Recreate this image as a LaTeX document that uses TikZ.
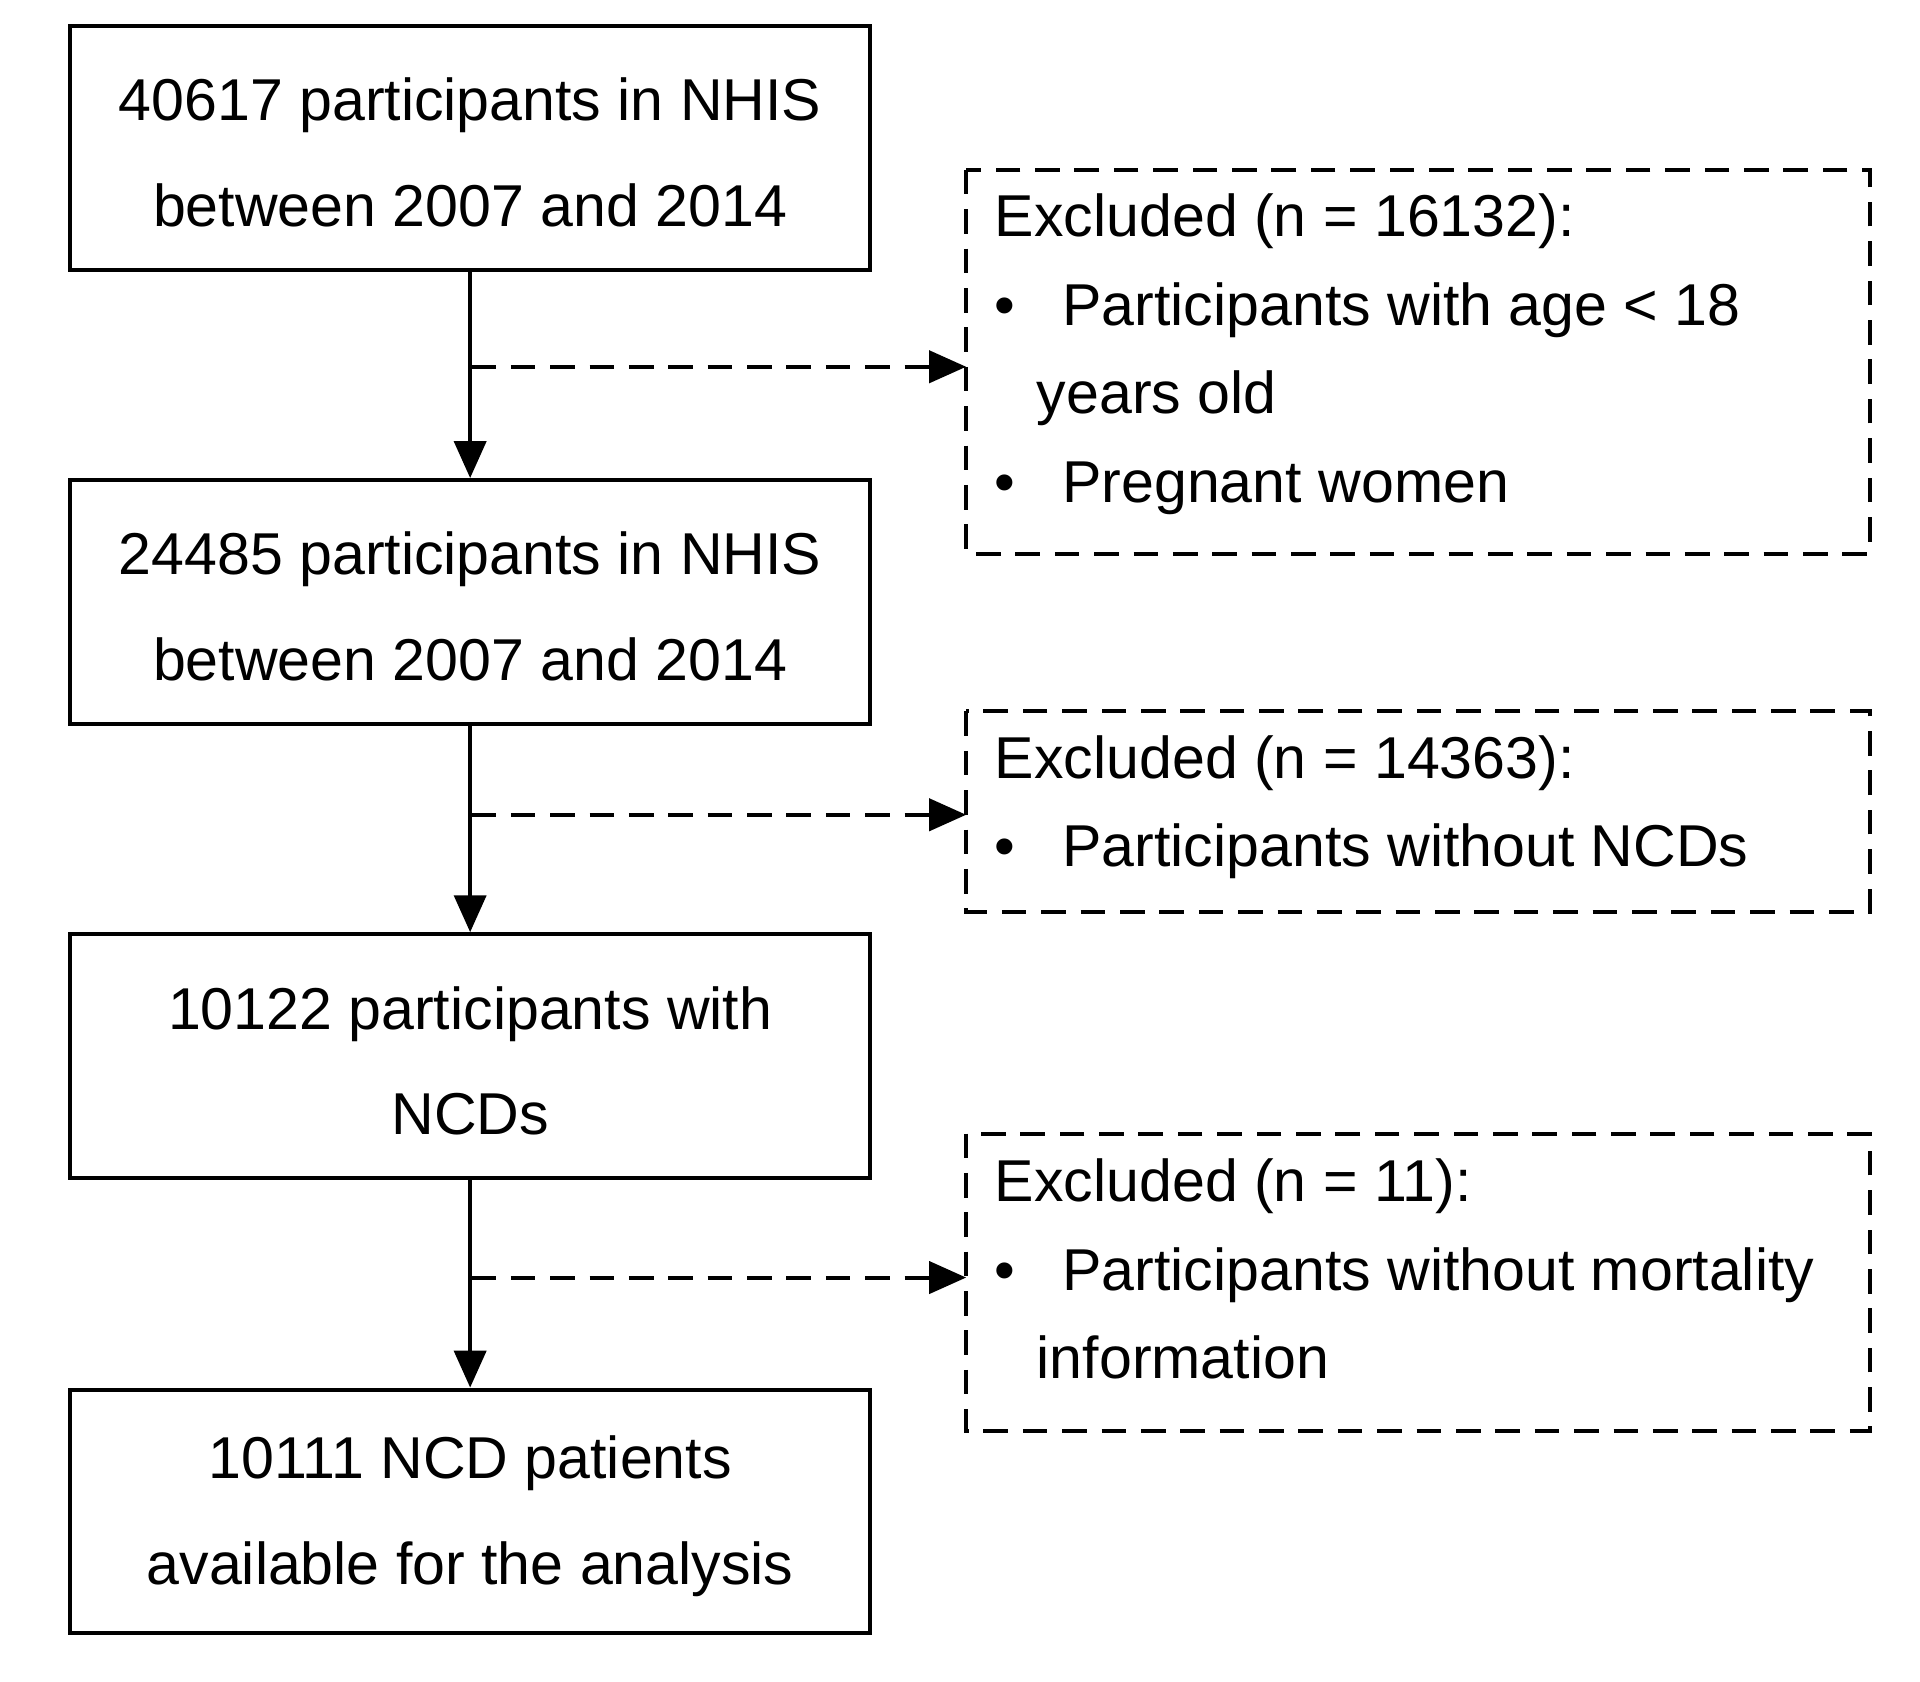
\documentclass[tikz,border=0pt]{standalone}
\usepackage{fontspec}
\setmainfont{Liberation Sans}
\usetikzlibrary{arrows.meta}
\begin{document}
\begin{tikzpicture}[x=0.5pt,y=-0.5pt,
  mainbox/.style={draw,line width=1.6pt,minimum width=325pt,minimum height=99pt,inner sep=0pt},
  exbox/.style={draw,line width=1.6pt,dash pattern=on 10pt off 6pt},
  maintext/.style={align=center,font=\fontsize{24}{43}\selectfont},
  extext/.style={anchor=mid west,inner sep=0pt,font=\fontsize{24}{29}\selectfont},
  flow/.style={line width=1.6pt,-{Triangle[length=15pt,width=13pt]}},
  dflow/.style={line width=1.6pt,dash pattern=on 10pt off 6pt,-{Triangle[length=15pt,width=13pt]}}]
\useasboundingbox (0,0) rectangle (1560,1366);
\node[mainbox] (b1) at (382,120) {};
\node[mainbox] (b2) at (382,489) {};
\node[mainbox] (b3) at (382,858) {};
\node[mainbox] (b4) at (382,1228) {};
\node[maintext] (t1) at (382,124) {40617 participants in NHIS\\between 2007 and 2014};
\node[maintext] (t2) at (382,493) {24485 participants in NHIS\\between 2007 and 2014};
\node[maintext] (t3) at (382,862) {10122 participants with\\NCDs};
\node[maintext] (t4) at (382,1232) {10111 NCD patients\\available for the analysis};
\draw[flow] (b1.south) -- (b2.north);
\draw[flow] (b2.south) -- (b3.north);
\draw[flow] (b3.south) -- (b4.north);
\draw[exbox] (785,138) rectangle (1519,450);
\draw[exbox] (785,578) rectangle (1519,741);
\draw[exbox] (785,921) rectangle (1519,1163);
\coordinate (e1) at (785,298);
\coordinate (e2) at (785,662);
\coordinate (e3) at (785,1038);
\coordinate (s1) at (383,298);
\coordinate (s2) at (383,662);
\coordinate (s3) at (383,1038);
\draw[dflow] (s1) -- (e1);
\draw[dflow] (s2) -- (e2);
\draw[dflow] (s3) -- (e3);
\node[extext] (x1) at (808,187) {Excluded (n = 16132):};
\node[extext] (x1b) at (808,259) {•\hspace{19pt}Participants with age < 18};
\node[extext] (x1c) at (842,331) {years old};
\node[extext] (x1d) at (808,403) {•\hspace{19pt}Pregnant women};
\node[extext] (x2) at (808,627) {Excluded (n = 14363):};
\node[extext] (x2b) at (808,699) {•\hspace{19pt}Participants without NCDs};
\node[extext] (x3) at (808,971) {Excluded (n = 11):};
\node[extext] (x3b) at (808,1043) {•\hspace{19pt}Participants without mortality};
\node[extext] (x3c) at (842,1115) {information};
\end{tikzpicture}
\end{document}
